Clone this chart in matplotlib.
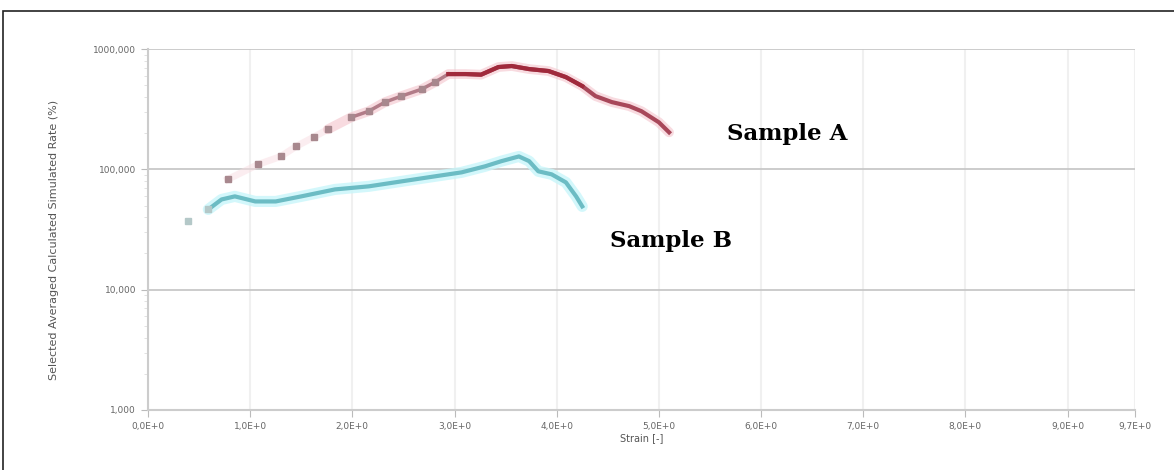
import numpy as np
import matplotlib
matplotlib.use("Agg")
import matplotlib.pyplot as plt
from matplotlib.patches import Rectangle

# Sample A (red)
a_x = [0.78, 1.08, 1.30, 1.45, 1.62, 1.76, 1.99, 2.16, 2.32, 2.48, 2.68, 2.81,
       2.94, 3.11, 3.26, 3.43, 3.56, 3.73, 3.92, 4.09, 4.25, 4.38, 4.54, 4.71,
       4.83, 5.00, 5.10]
a_y = [82.5, 110, 128, 155, 185, 215, 271, 304, 362, 406, 464, 531,
       619, 619, 612, 708, 722, 681, 656, 584, 492, 406, 362, 335,
       304, 246, 203]

# Sample B (teal)
b_x = [0.39, 0.59, 0.72, 0.85, 1.05, 1.25, 1.50, 1.83, 2.16, 2.48, 2.81, 3.07,
       3.30, 3.46, 3.63, 3.73, 3.82, 3.95, 4.09, 4.19, 4.25]
b_y = [36.9, 46.4, 56.2, 59.6, 54.1, 54.1, 59.6, 68.1, 72.2, 79.4, 87.5, 94.4,
       106, 117, 128, 117, 96.3, 90.9, 77.9, 59.6, 49.2]

x_ticks = [0, 1, 2, 3, 4, 5, 6, 7, 8, 9, 9.66]
x_labels = ["0,0E+0", "1,0E+0", "2,0E+0", "3,0E+0", "4,0E+0", "5,0E+0",
            "6,0E+0", "7,0E+0", "8,0E+0", "9,0E+0", "9,7E+0"]
y_ticks = [1, 10, 100, 1000]
y_labels = ["1,000", "10,000", "100,000", "1000,000"]

fig = plt.figure(figsize=(11.74, 4.70), dpi=100)
ax = fig.add_axes([148 / 1174, 1 - 410 / 470, (1135 - 148) / 1174, (410 - 49) / 470])

# outer frame
fig.patches.append(Rectangle((3 / 1174, -0.1), 1.2, 1 - 11 / 470 + 0.1,
                             transform=fig.transFigure, fill=False,
                             edgecolor="#222222", linewidth=1.2))

# Sample A: sparse dots first, then a glowing line
ax.plot(a_x[:6], a_y[:6], color="#f8dde2", linewidth=5, alpha=0.5)
ax.plot(a_x[5:], a_y[5:], color="#f4c4cc", linewidth=7, alpha=0.6, solid_capstyle="round")
ax.plot(a_x[6:13], a_y[6:13], color="#b27c88", linewidth=2.5)
ax.plot(a_x[12:], a_y[12:], color="#a8485a", linewidth=3)
ax.plot(a_x[:12], a_y[:12], linestyle="none", marker="s", markersize=4, color="#a8888e")
ax.plot(a_x[12:21], a_y[12:21], color="#a02a3c", linewidth=3)

# Sample B
ax.plot(b_x[1:], b_y[1:], color="#c8f6fa", linewidth=8, alpha=0.8, solid_capstyle="round")
ax.plot(b_x[1:], b_y[1:], color="#6cbcc4", linewidth=3)
ax.plot(b_x[:2], b_y[:2], linestyle="none", marker="s", markersize=4, color="#b4c8c8")

ax.set_yscale("log")
ax.set_ylim(1, 1000)
ax.set_xlim(0, 9.66)
ax.set_xticks(x_ticks)
ax.set_xticklabels(x_labels)
ax.set_yticks(y_ticks)
ax.set_yticklabels(y_labels)

ax.grid(True, which="major", axis="y", color="#c4c4c4", linewidth=1.2)
ax.grid(True, which="major", axis="x", color="#f0f0f0", linewidth=1.5)
for s in ["top", "right"]:
    ax.spines[s].set_visible(False)
for s in ["left", "bottom"]:
    ax.spines[s].set_color("#cccccc")
    ax.spines[s].set_linewidth(1.5)
ax.tick_params(axis="both", which="major", labelsize=6.5, labelcolor="#666666",
               color="#bbbbbb", length=5)
ax.tick_params(axis="y", which="minor", color="#dddddd", length=3)

ax.set_xlabel("Strain [-]", fontsize=7, color="#555555", labelpad=2)
ax.set_ylabel("Selected Averaged Calculated Simulated Rate (%)", fontsize=8,
              color="#555555", labelpad=20)
ax.yaxis.set_label_coords(-0.09, 0.47)

fig.text(727 / 1174, 1 - 134 / 470, "Sample A", fontsize=16.5, fontweight="bold",
         family="DejaVu Serif", va="center", ha="left")
fig.text(610 / 1174, 1 - 241 / 470, "Sample B", fontsize=16.5, fontweight="bold",
         family="DejaVu Serif", va="center", ha="left")

fig.savefig("out.png", dpi=100)
